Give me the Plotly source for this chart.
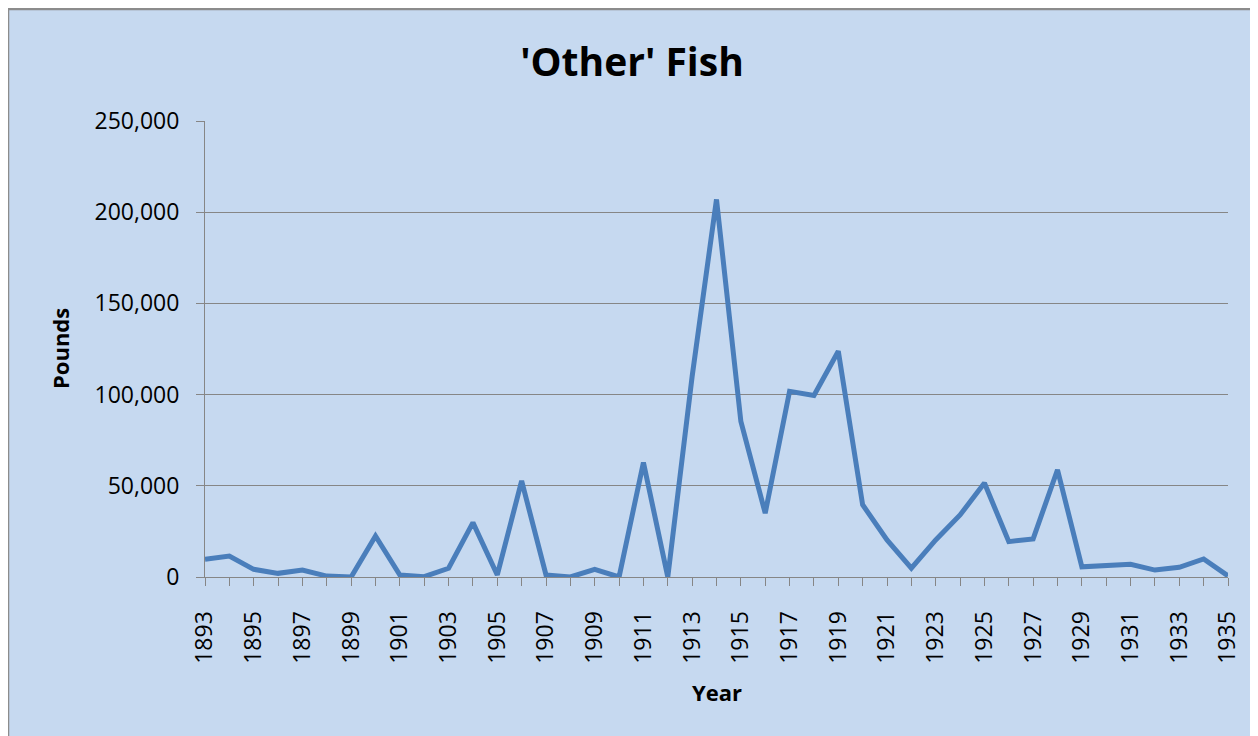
import plotly.graph_objects as go

years = list(range(1893, 1936))
pounds = [9700, 11500, 4200, 2000, 3800, 500, 0, 22500, 1100, 200,
          4800, 29800, 1100, 52700, 1100, 0, 4200, 0, 62800, 0,
          110000, 207000, 85300, 35000, 101800, 99500, 123800, 39600, 20300, 4800,
          20300, 34000, 51500, 19400, 20900, 58800, 5600, 6200, 7000, 3800,
          5300, 9900, 600]

title_text = "'Other' Fish"
x_title = "Year"
y_title = "Pounds"

# page body has an 8px margin, so figure coords = screen coords - 8
OFF = 8
W, H = 1258 - OFF, 736 - OFF
L, R, T, B = 205 - OFF, 1228 - OFF, 121 - OFF, 577 - OFF
pw, ph = R - L, B - T

bg = "#C6D9F0"
grid = "#868686"
font = "Open Sans, Liberation Sans, sans-serif"

fig = go.Figure()
fig.add_trace(go.Scatter(x=years, y=pounds, mode="lines",
                         line=dict(color="#4A7EBB", width=5),
                         hoverinfo="x+y", showlegend=False))

fig.update_layout(
    width=W, height=H,
    margin=dict(l=L, r=W - R, t=T, b=H - B, pad=0),
    paper_bgcolor="white",
    plot_bgcolor="white",
    title=dict(text="<b>" + title_text + "</b>", x=(632 - OFF) / W, xref="container",
               xanchor="center", y=1 - (62 - OFF) / H, yanchor="middle",
               font=dict(family=font, size=39, color="black")),
    font=dict(family=font, color="black"),
    shapes=[dict(type="rect", xref="paper", yref="paper", layer="below",
                 x0=(8 - OFF - L) / pw, x1=(1255 - OFF - L) / pw,
                 y0=(B - 780) / ph, y1=(B - (9 - OFF)) / ph,
                 fillcolor=bg, line=dict(color="#8C8C8C", width=2.5))],
    annotations=[
        dict(text="<b>" + y_title + "</b>", xref="paper", yref="paper",
             x=(60 - OFF - L) / pw, y=(B - (349 - OFF)) / ph, textangle=-90,
             showarrow=False, xanchor="center", yanchor="middle",
             font=dict(family=font, size=22, color="black")),
        dict(text="<b>" + x_title + "</b>", xref="paper", yref="paper",
             x=(717 - OFF - L) / pw, y=(B - (692 - OFF)) / ph,
             showarrow=False, xanchor="center", yanchor="middle",
             font=dict(family=font, size=22, color="black")),
    ],
)

fig.update_xaxes(range=[1893, 1935], tick0=1893, dtick=2,
                 tickangle=-90, ticks="outside", ticklen=8, tickcolor=grid,
                 tickfont=dict(family=font, size=23, color="black"),
                 showgrid=False, showline=True, linecolor=grid, linewidth=1,
                 zeroline=False, ticklabelstandoff=16,
                 minor=dict(dtick=1, tick0=1893, ticks="outside", ticklen=8,
                            tickcolor=grid, showgrid=False))
fig.update_yaxes(range=[0, 250000], dtick=50000, tickformat=",d",
                 ticks="outside", ticklen=8, tickcolor=grid,
                 tickfont=dict(family=font, size=23, color="black"),
                 showgrid=True, gridcolor=grid, gridwidth=1,
                 showline=True, linecolor=grid, linewidth=1,
                 zeroline=False, ticklabelstandoff=12)

fig.write_html("out.html")
